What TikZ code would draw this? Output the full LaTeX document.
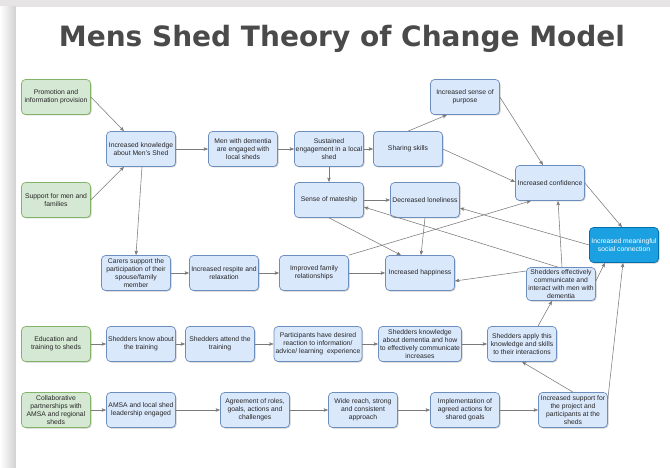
\documentclass[tikz,border=0pt]{standalone}
\usepackage{fontspec}
\setmainfont{Liberation Sans}
\newfontfamily\titlefont{DejaVu Sans}
\usetikzlibrary{arrows.meta,shadows,calc}
\definecolor{bfill}{HTML}{DAE8FC}
\definecolor{bline}{HTML}{6C8EBF}
\definecolor{gfill}{HTML}{D5E8D4}
\definecolor{gline}{HTML}{82B366}
\definecolor{mfill}{HTML}{1BA1E2}
\definecolor{mline}{HTML}{006EAF}
\definecolor{edgec}{HTML}{7A7A7A}
\definecolor{titlec}{HTML}{4A4A4A}
\definecolor{pagegray}{HTML}{E6E4E4}
\tikzset{
  bx/.style={draw=bline, fill=bfill, rounded corners=4pt, line width=0.7pt,
    minimum width=69pt, minimum height=35pt, inner sep=1pt, align=center,
    font=\fontsize{6.8}{8}\selectfont, text=black!85,
    drop shadow={shadow xshift=1pt, shadow yshift=-1pt, opacity=0.2, fill=black}},
  gbx/.style={bx, draw=gline, fill=gfill},
  mbx/.style={bx, draw=mline, fill=mfill, text=white},
  arr/.style={draw=edgec, line width=0.55pt, -{Stealth[length=4.5pt,width=3.5pt,inset=1pt]}},
}
\begin{document}
\begin{tikzpicture}[x=1pt,y=-1pt]
\useasboundingbox (0,0) rectangle (670,468);
% page background
\fill[pagegray] (0,0) rectangle (670,468);
\shade[left color=white, right color=black!18] (0,7) rectangle (16,468);
\fill[white] (16,7) rectangle (670,468);
% title
\node[font=\titlefont\bfseries\fontsize{28}{32}\selectfont, text=titlec] (title) at (342,39) {Mens Shed Theory of Change Model};
% row 1 / 2
\node[gbx] (prom) at (56,97) {Promotion and\\information provision};
\node[gbx] (sup) at (56,200) {Support for men and\\families};
\node[bx] (know) at (141,149) {Increased knowledge\\about Men’s Shed};
\node[bx] (men) at (243,149) {Men with dementia\\are engaged with\\local sheds};
\node[bx] (sust) at (329,149) {Sustained\\engagement in a local\\shed};
\node[bx] (share) at (408,149) {Sharing skills};
\node[bx] (purp) at (465,97) {Increased sense of\\purpose};
\node[bx] (conf) at (550,183) {Increased confidence};
\node[mbx] (mean) at (624,245) {Increased meaningful\\social connection};
\node[bx] (mate) at (329,200) {Sense of mateship};
\node[bx] (lone) at (425,200) {Decreased loneliness};
% row carers
\node[bx] (carers) at (136,273) {Carers support the\\participation of their\\spouse/family\\member};
\node[bx] (resp) at (224,273) {Increased respite and\\relaxation};
\node[bx] (fam) at (314,273) {Improved family\\relationships};
\node[bx] (hap) at (420,273) {Increased happiness};
\node[bx, minimum height=33pt] (eff) at (561,284) {Shedders effectively\\communicate and\\interact with men with\\dementia};
% row education
\node[gbx] (edu) at (56,344) {Education and\\training to sheds};
\node[bx] (kn) at (141,344) {Shedders know about\\the training};
\node[bx] (att) at (220,344) {Shedders attend the\\training};
\node[bx, minimum width=88pt] (part) at (318,344) {Participants have desired\\reaction to information/\\advice/ learning\ \ experience};
\node[bx, minimum width=83pt] (sknow) at (420,344) {Shedders knowledge\\about dementia and how\\to effectively communicate\\increases};
\node[bx] (apply) at (522,344) {Shedders apply this\\knowledge and skills\\to their interactions};
% row collaboration
\node[gbx] (col) at (56,410) {Collaborative\\partnerships with\\AMSA and regional\\sheds};
\node[bx] (amsa) at (141,410) {AMSA and local shed\\leadership engaged};
\node[bx] (agr) at (255,410) {Agreement of roles,\\goals, actions and\\challenges};
\node[bx] (wide) at (363,410) {Wide reach, strong\\and consistent\\approach};
\node[bx] (impl) at (465,410) {Implementation of\\agreed actions for\\shared goals};
\node[bx] (sup2) at (573,410) {Increased support for\\the project and\\participants at the\\sheds};
% edges
\draw[arr] (prom.east) -- ([xshift=-17pt]know.north);
\draw[arr] (sup.east) -- ([xshift=-17pt]know.south);
\draw[arr] (know) -- (men);
\draw[arr] (men) -- (sust);
\draw[arr] (sust) -- (share);
\draw[arr] (sust) -- (mate);
\draw[arr] ([xshift=1pt]know.south) -- (carers.north);
\draw[arr] (share.north) -- ([xshift=-18pt]purp.south);
\draw[arr] (purp.east) -- ([xshift=-7pt]conf.north);
\draw[arr] (share.east) -- ([yshift=1pt]conf.west);
\draw[arr] (conf.east) -- ([xshift=-2pt]mean.north);
\draw[arr] (mate) -- (lone);
\draw[arr] (mean.west) -- ([yshift=-8pt]lone.east);
\draw[arr] ([xshift=-3pt]eff.north) -- ([yshift=-7pt]mate.east);
\draw[arr] (fam.north east) -- ([xshift=-19pt]conf.south);
\draw[arr] (mate.south) -- ([xshift=-19pt]hap.north);
\draw[arr] (lone.south) -- ([xshift=1pt]hap.north);
\draw[arr] ([yshift=13pt]eff.west) -- ([yshift=-8pt]hap.east);
\draw[arr] ([xshift=1pt]eff.north) -- ([xshift=8pt]conf.south);
\draw[arr] ([yshift=3pt]eff.east) -- ([xshift=-19pt]mean.south);
\draw[arr] (carers) -- (resp);
\draw[arr] (resp) -- (fam);
\draw[arr] (fam) -- (hap);
\draw[arr] (edu) -- (kn);
\draw[arr] (kn) -- (att);
\draw[arr] (att) -- (part);
\draw[arr] (part) -- (sknow);
\draw[arr] (sknow) -- (apply);
\draw[arr] ([xshift=16pt]apply.north) -- ([xshift=-9pt]eff.south);
\draw[arr] (col) -- (amsa);
\draw[arr] (amsa) -- (agr);
\draw[arr] (agr) -- (wide);
\draw[arr] (wide) -- (impl);
\draw[arr] (impl) -- (sup2);
\draw[arr] (sup2.north) -- (apply.south);
\draw[arr] ([yshift=11pt]sup2.east) -- ([xshift=-1pt]mean.south);
\end{tikzpicture}
\end{document}
